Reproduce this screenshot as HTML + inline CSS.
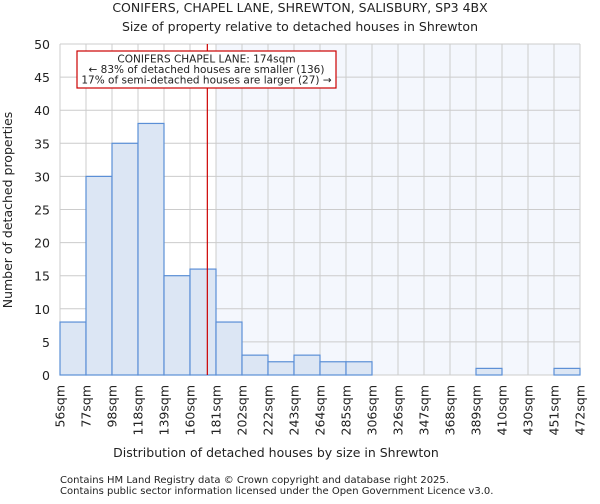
<!DOCTYPE html>
<html><head><meta charset="utf-8"><style>
body{margin:0;background:#fff;font-family:"DejaVu Sans","Liberation Sans",sans-serif;}
svg text{font-family:"DejaVu Sans","Liberation Sans",sans-serif;fill:#222;}
</style></head><body>
<svg id="c" width="600" height="500">
<text x="300" y="12" font-size="12.5" text-anchor="middle">CONIFERS, CHAPEL LANE, SHREWTON, SALISBURY, SP3 4BX</text>
<text x="300" y="31" font-size="12.5" text-anchor="middle">Size of property relative to detached houses in Shrewton</text>
<text x="276" y="457" font-size="12.5" text-anchor="middle">Distribution of detached houses by size in Shrewton</text>
<text transform="translate(12,210) rotate(-90)" font-size="12.5" text-anchor="middle">Number of detached properties</text>
<text x="60" y="483" font-size="10">Contains HM Land Registry data © Crown copyright and database right 2025.</text>
<text x="60" y="494" font-size="10">Contains public sector information licensed under the Open Government Licence v3.0.</text>
<g id="g"></g>
</svg>
<script>
const categories=["56sqm","77sqm","98sqm","118sqm","139sqm","160sqm","181sqm","202sqm","222sqm","243sqm","264sqm","285sqm","306sqm","326sqm","347sqm","368sqm","389sqm","410sqm","430sqm","451sqm","472sqm"];
const counts=[8,30,35,38,15,16,8,3,2,3,2,2,0,0,0,0,1,0,0,1];
const yTicks=[0,5,10,15,20,25,30,35,40,45,50];
const edgeValues=[56,77,98,118,139,160,181,202,222,243,264,285,306,326,347,368,389,410,430,451,472];
const propertySize=174;
const L=60,R=580,T=44,B=375,yMax=50;
const n=counts.length,bw=(R-L)/n;
const x=i=>L+i*bw;
const y=v=>B-(B-T)*v/yMax;
function xv(v){for(let i=0;i<edgeValues.length-1;i++){if(v<=edgeValues[i+1])return x(i)+bw*(v-edgeValues[i])/(edgeValues[i+1]-edgeValues[i]);}return R;}
const g=document.getElementById('g');const NS='http://www.w3.org/2000/svg';
function mk(t,a,p){const e=document.createElementNS(NS,t);for(const k in a)e.setAttribute(k,a[k]);(p||g).appendChild(e);return e;}
const px=xv(propertySize);
let shadeStart=x(Math.ceil((px-L)/bw));
const sh=mk('rect',{x:shadeStart,y:T,width:R-shadeStart,height:B-T,fill:'#f4f7fd'});


for(let i=0;i<=n;i++){const l=mk('line',{x1:x(i),x2:x(i),y1:T,y2:B,stroke:'#cccccc','stroke-width':1});

}
yTicks.forEach(t=>{const l=mk('line',{x1:L,x2:R,y1:y(t),y2:y(t),stroke:'#cccccc','stroke-width':1});


const tx=mk('text',{x:L-10,y:y(t)+5,'font-size':12.5,'text-anchor':'end'});tx.textContent=t;

});
counts.forEach((c,i)=>{if(c<=0)return;const r=mk('rect',{x:x(i),y:y(c),width:bw,height:B-y(c),fill:'#dce6f4',stroke:'#5b8fd6','stroke-width':1.2});

});
categories.forEach((c,i)=>{const tx=mk('text',{transform:`translate(${x(i)+4.5},385) rotate(-90)`,'font-size':12.5,'text-anchor':'end'});tx.textContent=c;

});
const rl=mk('line',{x1:px,x2:px,y1:T,y2:B,stroke:'#cc0000','stroke-width':1.2});


const box=mk('rect',{x:77,y:51,width:259,height:37,fill:'#fff',stroke:'#cc0000','stroke-width':1.2});


["CONIFERS CHAPEL LANE: 174sqm","← 83% of detached houses are smaller (136)","17% of semi-detached houses are larger (27) →"].forEach((s,k)=>{const tx=mk('text',{x:206.5,y:62.5+k*10.5,'font-size':10.5,'text-anchor':'middle'});tx.textContent=s;

});
</script>
</body></html>
